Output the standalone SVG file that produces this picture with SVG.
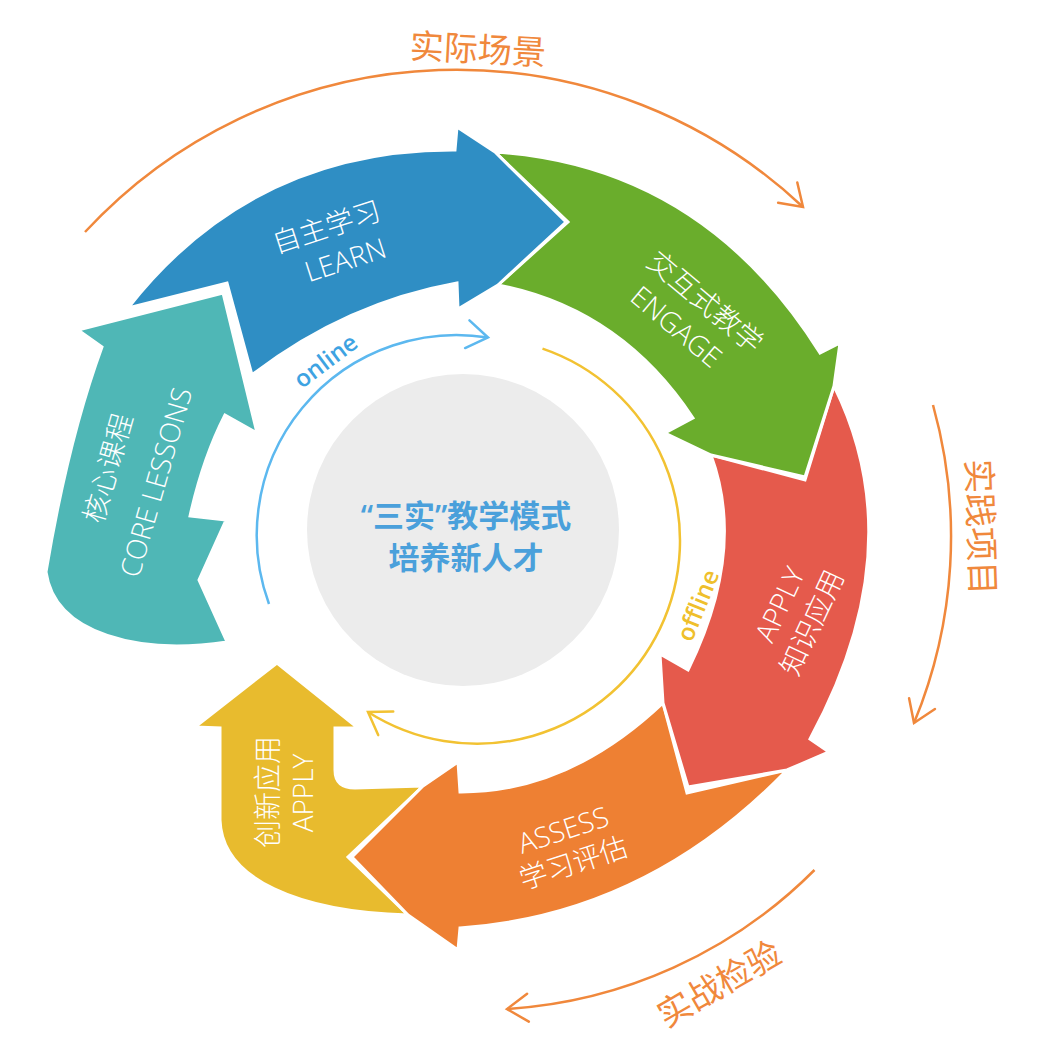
<svg xmlns="http://www.w3.org/2000/svg" width="1046" height="1057" viewBox="0 0 1046 1057">
<style>
.lbl{font-family:"Open Sans","Noto Sans CJK SC",sans-serif;font-size:28px;fill:#ffffff;font-weight:300;text-anchor:middle;dominant-baseline:central}
.orn{font-family:"Noto Sans CJK SC",sans-serif;font-size:34px;fill:#f0883c;text-anchor:middle;dominant-baseline:central}
.ctr{font-family:"Open Sans","Noto Sans CJK SC",sans-serif;font-size:31px;fill:#4aa0db;font-weight:600;text-anchor:middle;dominant-baseline:central}
.arc-lbl{font-family:"Open Sans","Noto Sans CJK SC",sans-serif;font-size:24px;font-weight:600;text-anchor:middle;dominant-baseline:central}
.arrow{stroke:#ffffff;stroke-width:3;stroke-linejoin:miter}
.ring{fill:none;stroke-width:2.5}
.chev{fill:none;stroke-width:2.5;stroke-linecap:round;stroke-linejoin:miter}
</style>
<defs>
<marker id="mBlue" viewBox="-30 -20 40 40" refX="0" refY="0" markerWidth="40" markerHeight="40" orient="auto" markerUnits="userSpaceOnUse"><path class="chev" stroke="#5cb8ef" d="M-21,-14 L0,0 L-21,14"/></marker>
<marker id="mYellow" viewBox="-30 -20 40 40" refX="0" refY="0" markerWidth="40" markerHeight="40" orient="auto" markerUnits="userSpaceOnUse"><path class="chev" stroke="#f2c232" d="M-21,-14 L0,0 L-21,14"/></marker>
<marker id="mOrange" viewBox="-30 -20 40 40" refX="0" refY="0" markerWidth="40" markerHeight="40" orient="auto" markerUnits="userSpaceOnUse"><path class="chev" stroke="#f0883c" d="M-21,-14 L0,0 L-21,14"/></marker>
</defs>
<rect width="1046" height="1057" fill="#ffffff"/>

<g id="center">
<circle cx="463" cy="530" r="156" fill="#ececec"/>
<text class="ctr" x="466" y="515">“三实”教学模式</text>
<text class="ctr" x="466" y="557">培养新人才</text>
</g>

<g id="node-apply2">
<path class="arrow" fill="#e8bb2e" d="M277 663 L358 728 L335 728 L335 770 Q335 788 355 788 L423 786 L348 857 L408 915 C300 912 222 880 220 820 L220 728 L195 727 Z"/>
<text class="lbl" transform="translate(267,792) rotate(-90)">创新应用</text>
<text class="lbl" transform="translate(302,793) rotate(-90)">APPLY</text>
</g>

<g id="node-assess">
<path class="arrow" fill="#ee8033" d="M787 770 L687 793 L663 703 Q568.5 792.5 460 792 L458 762 L423 786 L352 857 L408 915 L458 950 L460 928 Q646.5 915 787 770 Z"/>
<text class="lbl" transform="translate(563,829) rotate(-18)">ASSESS</text>
<text class="lbl" transform="translate(573,862) rotate(-18)">学习评估</text>
</g>

<g id="node-apply">
<path class="arrow" fill="#e55a4c" d="M834 386 L805 480 L711 455 Q746.5 551.5 688 670 L660 654 L663 703 L688 787 L787 770 L829 752 L810 739 Q914 547.5 834 386 Z"/>
<text class="lbl" transform="translate(779,604) rotate(-65)">APPLY</text>
<text class="lbl" transform="translate(811,622) rotate(-65)">知识应用</text>
</g>

<g id="node-engage">
<path class="arrow" fill="#6aad2c" d="M495 152 Q702.5 165.5 820 353 L840 343 L834 386 L805 477 L711 455 L665 433 L693 418 Q620.5 308.5 498 285 L568 222 Z"/>
<text class="lbl" transform="translate(706,301) rotate(40)">交互式教学</text>
<text class="lbl" transform="translate(677,326) rotate(40)">ENGAGE</text>
</g>

<g id="node-learn">
<path class="arrow" fill="#2f8ec4" d="M128 308 Q252.5 149 455 150 L457 127 L495 152 L566 222 L498 285 L458 309 L457 283 Q345.5 303 252 375 L227 283 Z"/>
<text class="lbl" transform="translate(326,226) rotate(-18)">自主学习</text>
<text class="lbl" transform="translate(345,259) rotate(-18)">LEARN</text>
</g>

<g id="node-core">
<path class="arrow" fill="#4fb7b6" d="M102 347 L78 330 L223 293 L257 433 L225 415 Q203 458 190 516 L226 520 L199 580 L227 642 C140 655 55 635 46 572 Q68 440 102 347 Z"/>
<text class="lbl" transform="translate(107,468) rotate(-74)">核心课程</text>
<text class="lbl" transform="translate(155,482) rotate(-74)">CORE LESSONS</text>
</g>

<g id="connectors">
<path class="ring" stroke="#5cb8ef" d="M269 604 A200 200 0 0 1 488 337.5" marker-end="url(#mBlue)"/>
<path class="ring" stroke="#f2c232" d="M542.5 348.6 A203 203 0 1 1 368 712" marker-end="url(#mYellow)"/>
<path class="ring" stroke="#f0883c" d="M85 232 A506 506 0 0 1 803 207" marker-end="url(#mOrange)"/>
<path class="ring" stroke="#f0883c" d="M933 405 A488 488 0 0 1 914 723" marker-end="url(#mOrange)"/>
<path class="ring" stroke="#f0883c" d="M814.5 870 A476 476 0 0 1 507 1009" marker-end="url(#mOrange)"/>
</g>

<g id="labels">
<text class="arc-lbl" fill="#3ea3e2" transform="translate(325,360) rotate(-37)">online</text>
<text class="arc-lbl" fill="#efbf2c" transform="translate(697,605) rotate(-68)">offline</text>
<text class="orn" transform="translate(478,47) rotate(3)">实际场景</text>
<text class="orn" transform="translate(983,527) rotate(88)">实践项目</text>
<text class="orn" transform="translate(718,982) rotate(-30)">实战检验</text>
</g>
</svg>
